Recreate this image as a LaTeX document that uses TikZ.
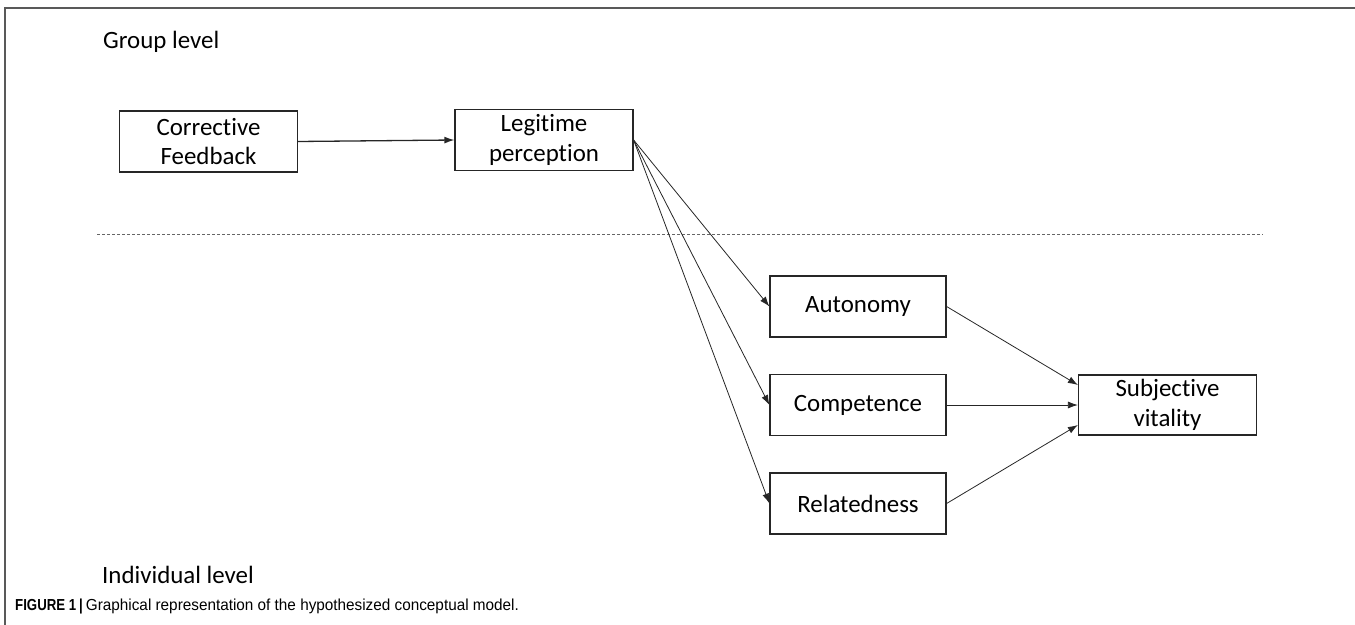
\documentclass[tikz,border=0pt]{standalone}
\usepackage{fontspec}
\setmainfont[Ligatures=NoCommon]{Carlito}
\newfontfamily\capfont[FakeStretch=0.96]{Liberation Sans}
\newfontfamily\capbold[FakeStretch=0.83]{Liberation Sans Bold}
\newcommand\nolig{\kern0pt}
\usetikzlibrary{arrows.meta}
\begin{document}
\begin{tikzpicture}[x=1bp,y=-1bp,
  box/.style={draw=black!85, line width=1.2bp, minimum width=178bp, minimum height=61bp, inner sep=0pt, align=center, font=\fontsize{25}{30}\selectfont},
  lbl/.style={anchor=west, inner sep=0pt, font=\fontsize{25}{30}\selectfont},
  conn/.style={draw=black!85, line width=0.8bp, -{Latex[length=10bp,width=7bp]}}]
\useasboundingbox (0,0) rectangle (1355,625);
% frame
\draw[black!65, line width=1.5bp] (1355,8) -- (5,8) -- (5,625);
% labels
\node[lbl] (grp) at (103,42) {Group level};
\node[lbl] (ind) at (102,575) {Individual level};
\node[anchor=west, inner sep=0pt, font=\fontsize{16}{20}\selectfont] (cap) at (15,606) {{\capbold FIGURE 1\hspace{3bp}|}\hspace{3bp}{\capfont Graphical representation of the hypothesized conceptual model.}};
% dashed divider
\coordinate (dl) at (97,234);
\coordinate (dr) at (1263,234);
\draw[black!60, line width=0.8bp, dash pattern=on 3bp off 2bp] (dl) -- (dr);
% boxes
\node[box] (cf) at (208.5,141.5) {Correct\nolig ive\\Feedback};
\node[box] (lp) at (544,140) {Legit\nolig ime\\percept\nolig ion};
\node[box, minimum width=176bp] (au) at (858,306.5) {Autonomy};
\node[box, minimum width=176bp] (co) at (858,405) {Competence};
\node[box, minimum width=176bp] (re) at (858,503.5) {Relatedness};
\node[box, minimum height=60bp] (sv) at (1167.5,405) {Subject\nolig ive\\vitality};
% connectors
\draw[conn, line width=1.3bp] (cf.east) -- (lp.west);
\draw[conn] (lp.east) -- (au.west);
\draw[conn] (lp.east) -- (co.west);
\draw[conn] (lp.east) -- (re.west);
\draw[conn] (au.east) -- ([yshift=20bp]sv.west);
\draw[conn] (co.east) -- (sv.west);
\draw[conn] (re.east) -- ([yshift=-20bp]sv.west);
\end{tikzpicture}
\end{document}
